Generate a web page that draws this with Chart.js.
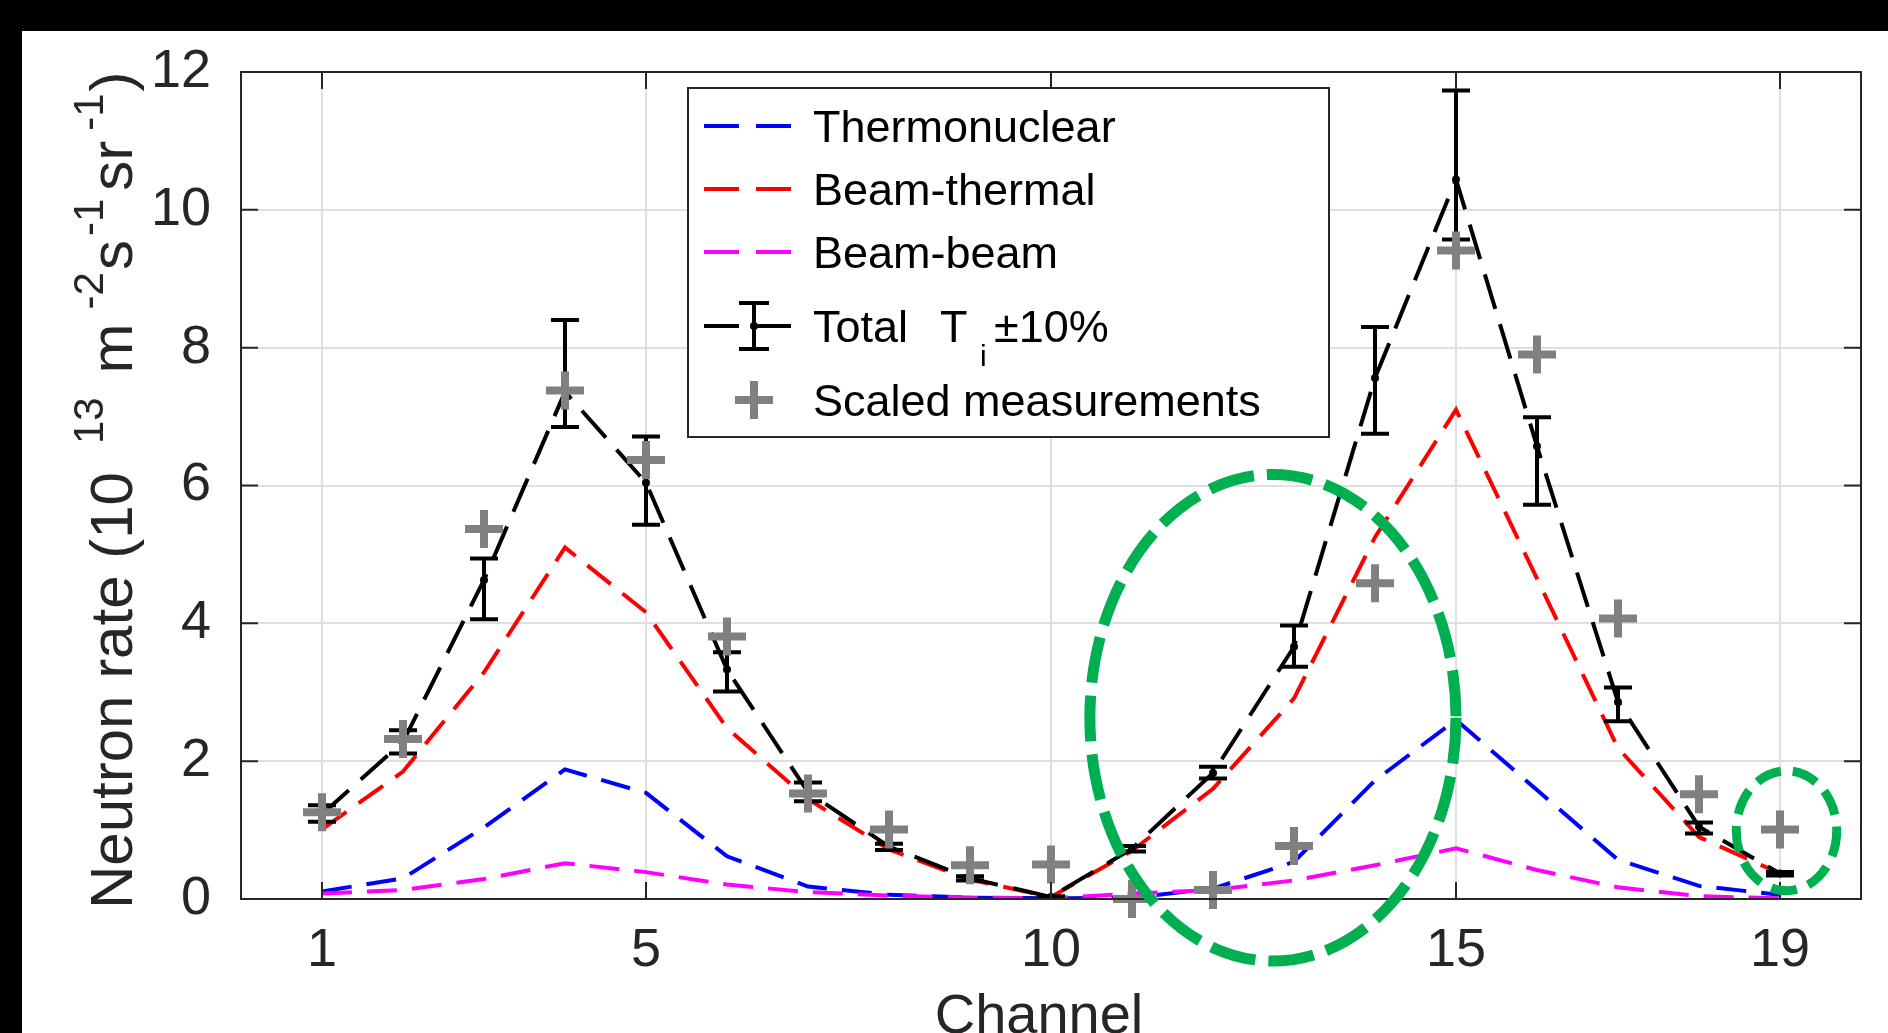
<!DOCTYPE html>
<html>
<head>
<meta charset="utf-8">
<title>Neutron rate per channel</title>
<script src="https://cdn.jsdelivr.net/npm/chart.js@4.4.1/dist/chart.umd.min.js"></script>
<style>
  html, body { margin: 0; padding: 0; background: #000; }
  body { width: 1888px; height: 1033px; overflow: hidden; position: relative; }
  #frame { position: absolute; left: 22px; top: 31px; width: 1866px; height: 1002px; background: #fff; }
  canvas { display: block; }
</style>
</head>
<body>
<div id="frame"><canvas id="chart" width="1866" height="1002"></canvas></div>
<script>
// Dados (taxa de nêutrons, 10^13 m^-2 s^-1 sr^-1)
const channels = [1, 2, 3, 4, 5, 6, 7, 8, 9, 10, 11, 12, 13, 14, 15, 16, 17, 18, 19];
const xTickValues = [1, 5, 10, 15, 19];

const thermonuclear = [0.11, 0.30, 1.04, 1.88, 1.54, 0.62, 0.18, 0.06, 0.02, 0.01, 0.02, 0.15, 0.54, 1.72, 2.60, 1.58, 0.57, 0.19, 0.06];
const beamThermal   = [1.01, 1.85, 3.29, 5.10, 4.16, 2.48, 1.45, 0.72, 0.28, 0.03, 0.70, 1.60, 2.91, 5.25, 7.10, 4.65, 2.19, 0.90, 0.37];
const beamBeam      = [0.08, 0.13, 0.29, 0.52, 0.39, 0.21, 0.10, 0.05, 0.02, 0.01, 0.08, 0.13, 0.27, 0.49, 0.735, 0.42, 0.17, 0.04, 0.01];
const total         = [1.23, 2.28, 4.63, 7.36, 6.04, 3.33, 1.55, 0.76, 0.30, 0.03, 0.73, 1.83, 3.66, 7.56, 10.44, 6.57, 2.86, 1.05, 0.37];
const totalHigh     = [1.36, 2.45, 4.94, 8.40, 6.71, 3.58, 1.69, 0.80, 0.33, 0.04, 0.77, 1.92, 3.97, 8.30, 11.73, 6.99, 3.07, 1.11, 0.39];
const totalLow      = [1.12, 2.11, 4.06, 6.85, 5.43, 3.01, 1.42, 0.71, 0.27, 0.02, 0.69, 1.75, 3.37, 6.75, 9.57, 5.72, 2.58, 0.95, 0.34];
const measured      = [1.26, 2.32, 5.37, 7.38, 6.37, 3.81, 1.53, 1.01, 0.49, 0.50, 0.00, 0.13, 0.77, 4.58, 9.41, 7.90, 4.07, 1.52, 1.01];

// Elipses verdes de destaque (em unidades de canal / taxa)
const highlights = [
    { channel: 12.74, rate: 2.63, halfWidth: 2.26, halfHeight: 3.53, lineWidth: 11, dash: [46, 13] },
    { channel: 19.08, rate: 0.99, halfWidth: 0.62, halfHeight: 0.87, lineWidth: 9, dash: [26, 12] }
];

const FONT = '"Liberation Sans", Arial, Helvetica, sans-serif';
const AXIS_COLOR = '#262626';

function toPoints(values) {
    return channels.map((c, i) => ({ x: c, y: values[i] }));
}

// Desenha o rótulo do eixo Y com sobrescritos (girado)
function drawYTitle(ctx) {
    const parts = [
        { text: 'Neutron rate (10', sup: false, gap: 0 },
        { text: '13', sup: true, gap: 28 },
        { text: 'm', sup: false, gap: 24 },
        { text: '-2', sup: true, gap: 14 },
        { text: 's', sup: false, gap: 2 },
        { text: '-1', sup: true, gap: 4 },
        { text: 'sr', sup: false, gap: 8 },
        { text: '-1', sup: true, gap: 10 },
        { text: ')', sup: false, gap: 2 }
    ];
    ctx.save();
    ctx.translate(110, 878);
    ctx.rotate(-Math.PI / 2);
    ctx.fillStyle = AXIS_COLOR;
    ctx.textBaseline = 'alphabetic';
    ctx.textAlign = 'left';
    let pos = 0;
    parts.forEach(p => {
        pos += p.gap;
        ctx.font = (p.sup ? '42px ' : '60px ') + FONT;
        ctx.fillText(p.text, pos, p.sup ? -29 : 0);
        pos += ctx.measureText(p.text).width;
    });
    ctx.restore();
}

function drawLegend(ctx, chart) {
    const ds = chart.data.datasets;
    const left = 666, top = 57, right = 1307, bottom = 406;
    const rows = [95, 158, 221, 295, 369];
    const sx0 = 682, sx1 = 769, tx = 791, mid = 732;

    ctx.save();
    ctx.fillStyle = '#fff';
    ctx.fillRect(left, top, right - left, bottom - top);
    ctx.strokeStyle = AXIS_COLOR;
    ctx.lineWidth = 2;
    ctx.strokeRect(left, top, right - left, bottom - top);

    ctx.font = '45px ' + FONT;
    ctx.textBaseline = 'alphabetic';
    ctx.textAlign = 'left';

    // linhas tracejadas
    [0, 1, 2, 3].forEach(i => {
        const y = rows[i];
        ctx.strokeStyle = ds[i].borderColor;
        ctx.lineWidth = ds[i].borderWidth;
        ctx.setLineDash([35, 17]);
        ctx.beginPath();
        ctx.moveTo(sx0, y);
        ctx.lineTo(sx1, y);
        ctx.stroke();
    });
    ctx.setLineDash([]);

    // símbolo da barra de erro
    const ey = rows[3];
    ctx.strokeStyle = '#000';
    ctx.lineWidth = 4;
    ctx.beginPath();
    ctx.moveTo(mid, ey - 23); ctx.lineTo(mid, ey + 23);
    ctx.moveTo(mid - 15, ey - 23); ctx.lineTo(mid + 15, ey - 23);
    ctx.moveTo(mid - 15, ey + 23); ctx.lineTo(mid + 15, ey + 23);
    ctx.stroke();
    ctx.fillStyle = '#000';
    ctx.beginPath();
    ctx.arc(mid, ey, 4, 0, Math.PI * 2);
    ctx.fill();

    // cruz das medidas
    const py = rows[4];
    ctx.strokeStyle = ds[4].borderColor;
    ctx.lineWidth = ds[4].pointBorderWidth;
    ctx.beginPath();
    ctx.moveTo(mid - 19, py); ctx.lineTo(mid + 19, py);
    ctx.moveTo(mid, py - 19); ctx.lineTo(mid, py + 19);
    ctx.stroke();

    // textos
    ctx.fillStyle = '#000';
    const capOffset = 16;
    ctx.fillText(ds[0].label, tx, rows[0] + capOffset);
    ctx.fillText(ds[1].label, tx, rows[1] + capOffset);
    ctx.fillText(ds[2].label, tx, rows[2] + capOffset);
    ctx.fillText('Total', tx, rows[3] + capOffset);
    ctx.fillText('T', tx + 127, rows[3] + capOffset);
    ctx.fillText('\u00b110%', tx + 181, rows[3] + capOffset);
    ctx.font = '30px ' + FONT;
    ctx.fillText('i', tx + 167, rows[3] + capOffset + 24);
    ctx.font = '45px ' + FONT;
    ctx.fillText(ds[4].label, tx, rows[4] + capOffset);
    ctx.restore();
}

const figureOverlay = {
    id: 'figureOverlay',
    afterDatasetDraw(chart, args) {
        // barras de erro logo depois da curva total
        if (args.index !== 3) return;
        const { ctx, scales: { x, y } } = chart;
        ctx.save();
        ctx.strokeStyle = '#000';
        ctx.lineWidth = 4;
        ctx.setLineDash([]);
        channels.forEach((c, i) => {
            const px = x.getPixelForValue(c);
            const hi = y.getPixelForValue(totalHigh[i]);
            const lo = y.getPixelForValue(totalLow[i]);
            ctx.beginPath();
            ctx.moveTo(px, hi); ctx.lineTo(px, lo);
            ctx.moveTo(px - 14, hi); ctx.lineTo(px + 14, hi);
            ctx.moveTo(px - 14, lo); ctx.lineTo(px + 14, lo);
            ctx.stroke();
        });
        ctx.restore();
    },
    afterDraw(chart) {
        const { ctx, chartArea: a, scales: { x, y } } = chart;
        ctx.save();

        // moldura e marcas internas
        ctx.strokeStyle = AXIS_COLOR;
        ctx.lineWidth = 2;
        ctx.strokeRect(a.left, a.top, a.right - a.left, a.bottom - a.top);
        const tl = 17;
        ctx.beginPath();
        xTickValues.forEach(v => {
            const px = x.getPixelForValue(v);
            ctx.moveTo(px, a.bottom); ctx.lineTo(px, a.bottom - tl);
            ctx.moveTo(px, a.top); ctx.lineTo(px, a.top + tl);
        });
        for (let v = 0; v <= 12; v += 2) {
            const py = y.getPixelForValue(v);
            ctx.moveTo(a.left, py); ctx.lineTo(a.left + tl, py);
            ctx.moveTo(a.right, py); ctx.lineTo(a.right - tl, py);
        }
        ctx.stroke();
        ctx.restore();

        drawLegend(ctx, chart);

        // elipses verdes
        ctx.save();
        ctx.strokeStyle = '#00b050';
        highlights.forEach(h => {
            const cx = x.getPixelForValue(h.channel);
            const cy = y.getPixelForValue(h.rate);
            const rx = Math.abs(x.getPixelForValue(h.channel + h.halfWidth) - cx);
            const ry = Math.abs(y.getPixelForValue(h.rate + h.halfHeight) - cy);
            ctx.lineWidth = h.lineWidth;
            ctx.setLineDash(h.dash);
            ctx.beginPath();
            ctx.ellipse(cx, cy, rx, ry, 0, 0, Math.PI * 2);
            ctx.stroke();
        });
        ctx.restore();

        // títulos dos eixos
        drawYTitle(ctx);
        ctx.save();
        ctx.fillStyle = AXIS_COLOR;
        ctx.font = '56px ' + FONT;
        ctx.textAlign = 'center';
        ctx.textBaseline = 'alphabetic';
        ctx.fillText('Channel', 1017, 1002);
        ctx.restore();
    }
};

const ctx = document.getElementById('chart').getContext('2d');
new Chart(ctx, {
    type: 'line',
    data: {
        datasets: [
            {
                label: 'Thermonuclear',
                data: toPoints(thermonuclear),
                borderColor: '#0000ff',
                borderWidth: 4,
                borderDash: [30, 15],
                pointRadius: 0,
                order: 6
            },
            {
                label: 'Beam-thermal',
                data: toPoints(beamThermal),
                borderColor: '#ff0000',
                borderWidth: 4,
                borderDash: [30, 15],
                pointRadius: 0,
                order: 5
            },
            {
                label: 'Beam-beam',
                data: toPoints(beamBeam),
                borderColor: '#ff00ff',
                borderWidth: 4,
                borderDash: [30, 15],
                pointRadius: 0,
                order: 4
            },
            {
                label: 'Total  Ti \u00b110%',
                data: toPoints(total),
                borderColor: '#000000',
                borderWidth: 4,
                borderDash: [36, 16],
                pointRadius: 4,
                pointBackgroundColor: '#000000',
                pointBorderWidth: 0,
                order: 3
            },
            {
                label: 'Scaled measurements',
                data: toPoints(measured),
                showLine: false,
                borderColor: '#808080',
                backgroundColor: '#808080',
                pointStyle: 'cross',
                pointRadius: 19,
                pointBorderWidth: 8,
                pointBorderColor: '#808080',
                clip: false,
                order: 1
            }
        ]
    },
    options: {
        responsive: false,
        animation: false,
        devicePixelRatio: 1,
        layout: { padding: { top: 41, right: 23, left: 0, bottom: 0 } },
        plugins: {
            legend: { display: false },
            tooltip: { enabled: false },
            title: { display: false }
        },
        scales: {
            x: {
                type: 'linear',
                min: 0,
                max: 20,
                afterBuildTicks: scale => {
                    scale.ticks = xTickValues.map(v => ({ value: v }));
                },
                afterFit: scale => {
                    scale.height = 134;
                    scale.paddingLeft = 0;
                    scale.paddingRight = 0;
                },
                grid: { color: '#dfdfdf', lineWidth: 2, drawTicks: false },
                border: { display: false },
                ticks: {
                    color: AXIS_COLOR,
                    font: { family: FONT, size: 54 },
                    padding: 20,
                    maxRotation: 0
                }
            },
            y: {
                min: 0,
                max: 12,
                afterFit: scale => {
                    scale.width = 219;
                    scale.paddingTop = 0;
                    scale.paddingBottom = 0;
                },
                grid: { color: '#dfdfdf', lineWidth: 2, drawTicks: false },
                border: { display: false },
                ticks: {
                    stepSize: 2,
                    color: AXIS_COLOR,
                    font: { family: FONT, size: 54 },
                    padding: 30
                }
            }
        }
    },
    plugins: [figureOverlay]
});
</script>
</body>
</html>
